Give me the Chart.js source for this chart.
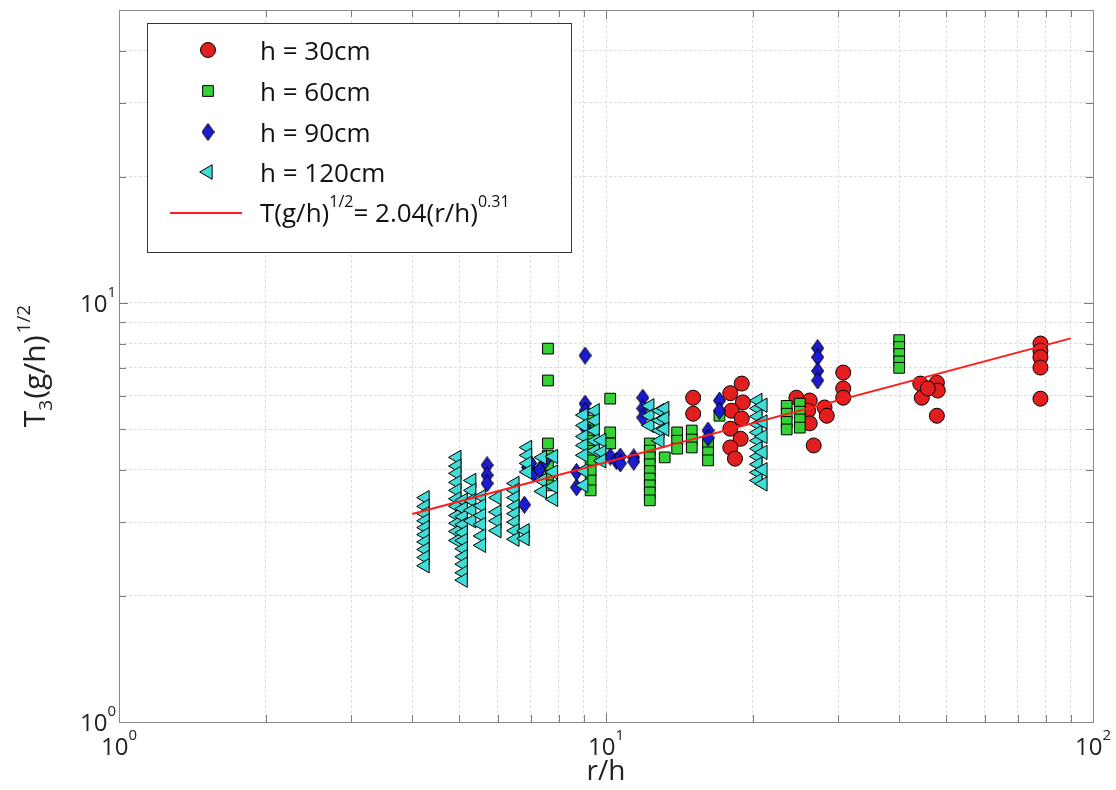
<!DOCTYPE html>
<html>
<head>
<meta charset="utf-8">
<script src="https://cdn.jsdelivr.net/npm/chart.js@4.4.0/dist/chart.umd.min.js"></script>
<style>
  html, body { margin: 0; padding: 0; background: #ffffff; }
  #wrap { width: 1116px; height: 790px; }
</style>
</head>
<body>
<div id="wrap"><canvas id="c" width="1116" height="790"></canvas></div>
<script>
// ---- measurements: r/h and T3 (g/h)^1/2 for each water depth h ----
const h30_r = [15.1, 15.1,
  19.0, 18.0, 19.1, 18.1, 19.0, 18.0, 18.9, 18.0, 18.4,
  24.6, 26.2, 26.0, 28.1, 28.4, 26.2, 26.7,
  30.7, 30.7, 30.7,
  44.2, 44.5, 47.8, 48.0, 45.8, 47.8,
  78, 78, 78, 78, 78];
const h30_T = [5.94, 5.44,
  6.42, 6.09, 5.79, 5.53, 5.30, 5.01, 4.74, 4.52, 4.25,
  5.94, 5.85, 5.53, 5.63, 5.38, 5.16, 4.57,
  6.82, 6.25, 5.94,
  6.42, 5.94, 6.45, 6.18, 6.25, 5.38,
  8.00, 7.69, 7.42, 7.01, 5.91];

const h60_r = [7.6, 7.6, 7.6, 7.6, 7.6, 7.6, 7.6,
  9.3, 9.3, 9.3, 9.3, 9.3, 9.3, 9.3, 9.3,
  10.2, 10.2, 10.2,
  12.3, 12.3, 12.3, 12.3, 12.3, 12.3, 12.3, 12.3, 12.3,
  13.2,
  14.0, 14.0, 14.0, 15.0, 15.0, 15.0,
  16.2, 16.2, 16.2,
  17.1,
  23.5, 23.5, 23.5, 23.5, 25.0, 25.0, 25.0, 25.0,
  40, 40, 40, 40, 40];
const h60_T = [7.78, 6.53, 4.62, 4.32, 4.09, 3.87, 3.67,
  5.24, 4.96, 4.69, 4.44, 4.21, 3.98, 3.77, 3.57,
  5.91, 4.91, 4.62,
  4.62, 4.44, 4.28, 4.12, 3.97, 3.81, 3.67, 3.53, 3.38,
  4.28,
  4.91, 4.69, 4.49, 4.96, 4.72, 4.52,
  4.62, 4.40, 4.21,
  5.38,
  5.68, 5.44, 5.20, 4.99, 5.75, 5.50, 5.27, 5.04,
  8.15, 7.85, 7.55, 7.25, 7.00];

const h90_r = [5.7, 5.7, 5.7,
  6.8,
  6.9, 7.1, 7.0,
  7.5, 7.3,
  8.7, 8.7,
  9.06, 9.06, 9.06, 9.06,
  10.2, 10.5, 10.7, 10.7,
  11.4, 11.4,
  11.9, 11.9, 11.9,
  16.2, 16.2,
  17.1, 17.1,
  27.2, 27.2, 27.2, 27.2];
const h90_T = [4.10, 3.88, 3.71,
  3.30,
  4.05, 3.92, 4.15,
  4.20, 4.00,
  3.63, 3.95,
  7.49, 5.75, 5.53, 5.04,
  4.30, 4.20, 4.30, 4.14,
  4.28, 4.18,
  5.94, 5.60, 5.33,
  4.96, 4.77,
  5.85, 5.53,
  7.80, 7.42, 6.88, 6.53];

const h120_r = [4.25, 4.25, 4.25, 4.25, 4.25, 4.25, 4.25, 4.25, 4.25, 4.25,
  4.94, 4.94, 4.94, 4.94, 4.94, 4.94, 4.94, 4.94, 4.94, 4.94, 4.94,
  5.09, 5.09, 5.09, 5.09, 5.09, 5.09, 5.09, 5.09, 5.09, 5.09, 5.09,
  5.3, 5.3, 5.3, 5.3, 5.3,
  5.55, 5.55, 5.55, 5.55, 5.55, 5.55,
  5.97, 5.97, 5.97, 5.97,
  6.5, 6.5, 6.5, 6.5, 6.5, 6.5, 6.5, 6.5,
  6.82, 6.82,
  6.9, 6.9, 6.9, 6.9,
  7.4, 7.4, 7.4,
  7.8, 7.8, 7.8, 7.8,
  9.0, 9.0, 9.0, 9.0, 9.0, 9.0, 9.0,
  9.5, 9.5, 9.5, 9.5, 9.5,
  9.8, 9.8, 9.8,
  12.3, 12.3, 12.3,
  12.9, 12.9, 12.9, 12.9,
  13.2, 13.2, 13.2,
  20.5, 20.5, 20.5, 20.5, 20.5, 20.5, 20.5, 20.5, 20.5, 20.5, 20.5,
  21.0, 21.0, 21.0, 21.0, 21.0, 21.0];
const h120_T = [3.43, 3.27, 3.14, 3.02, 2.91, 2.80, 2.69, 2.58, 2.47, 2.36,
  4.28, 4.08, 3.92, 3.73, 3.57, 3.41, 3.27, 3.11, 2.98, 2.85, 2.71,
  3.38, 3.23, 3.09, 2.96, 2.83, 2.71, 2.59, 2.48, 2.38, 2.27, 2.18,
  3.77, 3.57, 3.38, 3.20, 3.02,
  3.45, 3.28, 3.11, 2.96, 2.78, 2.64,
  3.43, 3.17, 3.02, 2.86,
  3.71, 3.57, 3.43, 3.27, 3.14, 3.00, 2.86, 2.73,
  2.86, 2.74,
  4.52, 4.33, 4.14, 3.95,
  4.28, 3.77, 3.55,
  4.30, 3.95, 3.65, 3.40,
  5.40, 5.10, 4.80, 4.57, 4.33, 3.98, 3.67,
  5.53, 5.24, 4.96, 4.69, 4.44,
  4.70, 4.40, 4.20,
  5.68, 5.38, 5.10,
  5.53, 5.24, 4.96, 4.69,
  5.60, 5.30, 5.00,
  5.85, 5.60, 5.36, 5.13, 4.91, 4.69, 4.49, 4.30, 4.12, 3.94, 3.77,
  5.70, 5.20, 4.80, 4.40, 4.00, 3.70];

// power-law fit T(g/h)^1/2 = 2.04 (r/h)^0.31, drawn over this r/h span
const fitCoef = 2.04;
const fitExp = 0.31;
const fitRange = [4, 90];

// axis ticks (log decades plus the 2..9 subdivisions)
const xTickValues = [1, 2, 3, 4, 5, 6, 7, 8, 9, 10, 20, 30, 40, 50, 60, 70, 80, 90, 100];
const yTickValues = [1, 2, 3, 4, 5, 6, 7, 8, 9, 10, 20, 30, 40, 50];
const xLabelDecades = [1, 10, 100];
const yLabelDecades = [1, 10];

const seriesNames = ['h = 30cm', 'h = 60cm', 'h = 90cm', 'h = 120cm'];

const FONT = '"Open Sans", "Liberation Sans", Arial, sans-serif';

function pairs(xs, ys) { return xs.map((v, i) => ({ x: v, y: ys[i] })); }

// diamond marker, taller than wide
function makeDiamond(w, h, fill) {
  const c = document.createElement('canvas');
  c.width = w; c.height = h;
  const g = c.getContext('2d');
  g.beginPath();
  g.moveTo(w / 2, 0.5);
  g.lineTo(w - 0.5, h / 2);
  g.lineTo(w / 2, h - 0.5);
  g.lineTo(0.5, h / 2);
  g.closePath();
  g.fillStyle = fill; g.fill();
  g.strokeStyle = '#000'; g.lineWidth = 1; g.stroke();
  return c;
}

function drawRich(ctx, parts, x, y, align) {
  let total = 0;
  parts.forEach(p => {
    ctx.font = p.size + 'px ' + FONT;
    p.w = ctx.measureText(p.t).width;
    total += p.w + (p.gap || 0);
  });
  let cx = align === 'center' ? x - total / 2 : (align === 'right' ? x - total : x);
  parts.forEach(p => {
    ctx.font = p.size + 'px ' + FONT;
    ctx.fillText(p.t, cx, y + (p.dy || 0));
    cx += p.w + (p.gap || 0);
  });
}

function build() {
  const diamond = makeDiamond(13, 18, '#1b1bd2');

  const styles = [
    { pointStyle: 'circle', radius: 7.5, rotation: 0, fill: '#e31e1e' },
    { pointStyle: 'rect', radius: 7.6, rotation: 0, fill: '#34d234' },
    { pointStyle: diamond, radius: 8, rotation: 0, fill: '#1b1bd2' },
    { pointStyle: 'triangle', radius: 8.3, rotation: -90, fill: '#3fdcd6' }
  ];
  const seriesData = [pairs(h30_r, h30_T), pairs(h60_r, h60_T), pairs(h90_r, h90_T), pairs(h120_r, h120_T)];

  const datasets = seriesData.map((d, i) => ({
    type: 'scatter',
    label: seriesNames[i],
    data: d,
    showLine: false,
    pointStyle: styles[i].pointStyle,
    pointRadius: styles[i].radius,
    pointRotation: styles[i].rotation,
    backgroundColor: styles[i].fill,
    borderColor: '#000000',
    borderWidth: 1,
    order: 4 - i
  }));
  datasets.push({
    type: 'line',
    label: 'fit',
    data: fitRange.map(v => ({ x: v, y: fitCoef * Math.pow(v, fitExp) })),
    borderColor: '#ff1c1c',
    borderWidth: 2,
    pointRadius: 0,
    fill: false,
    order: 0
  });

  const decor = {
    id: 'decor',
    afterDraw(chart) {
      const { ctx, chartArea: a, scales } = chart;
      const xs = scales.x, ys = scales.y;
      ctx.save();

      // inward tick marks on all four sides
      ctx.strokeStyle = '#7d7d7d';
      ctx.lineWidth = 1;
      ctx.beginPath();
      xs.ticks.forEach(t => {
        const px = Math.round(xs.getPixelForValue(t.value)) + 0.5;
        const len = xLabelDecades.includes(t.value) ? 9 : 7;
        ctx.moveTo(px, a.bottom); ctx.lineTo(px, a.bottom - len);
        ctx.moveTo(px, a.top); ctx.lineTo(px, a.top + len);
      });
      ys.ticks.forEach(t => {
        const py = Math.round(ys.getPixelForValue(t.value)) + 0.5;
        const len = yLabelDecades.includes(t.value) ? 9 : 7;
        ctx.moveTo(a.left, py); ctx.lineTo(a.left + len, py);
        ctx.moveTo(a.right, py); ctx.lineTo(a.right - len, py);
      });
      ctx.stroke();

      // axes box
      ctx.strokeStyle = '#8a8a8a';
      ctx.strokeRect(Math.round(a.left) + 0.5, Math.round(a.top) + 0.5,
        Math.round(a.right - a.left), Math.round(a.bottom - a.top));

      // tick labels 10^n
      ctx.fillStyle = '#222222';
      ctx.textBaseline = 'alphabetic';
      xLabelDecades.forEach(v => {
        const px = xs.getPixelForValue(v);
        drawRich(ctx, [
          { t: '10', size: 24 },
          { t: String(Math.round(Math.log10(v))), size: 15, dy: -15, gap: 0 }
        ], px, 755, 'center');
      });
      yLabelDecades.forEach(v => {
        const py = ys.getPixelForValue(v);
        drawRich(ctx, [
          { t: '10', size: 24 },
          { t: String(Math.round(Math.log10(v))), size: 15, dy: -15 }
        ], a.left - 3, py + 9, 'right');
      });

      // axis titles
      drawRich(ctx, [{ t: 'r/h', size: 28 }], (a.left + a.right) / 2, 780, 'center');
      ctx.save();
      ctx.translate(45, (a.top + a.bottom) / 2);
      ctx.rotate(-Math.PI / 2);
      drawRich(ctx, [
        { t: 'T', size: 30 },
        { t: '3', size: 19, dy: 7, gap: 1 },
        { t: '(g/h)', size: 30, gap: 2 },
        { t: '1/2', size: 19, dy: -15 }
      ], 0, 0, 'center');
      ctx.restore();

      // legend
      const L = { left: 147, top: 23, right: 571, bottom: 252 };
      ctx.fillStyle = '#ffffff';
      ctx.fillRect(L.left, L.top, L.right - L.left, L.bottom - L.top);
      ctx.strokeStyle = '#333333';
      ctx.lineWidth = 1;
      ctx.strokeRect(L.left + 0.5, L.top + 0.5, L.right - L.left, L.bottom - L.top);
      const rows = [50, 91, 132, 172];
      const mx = 208, tx = 260;
      styles.forEach((s, i) => {
        ctx.fillStyle = s.fill;
        ctx.strokeStyle = '#000000';
        ctx.lineWidth = 1;
        Chart.helpers.drawPoint(ctx, { pointStyle: s.pointStyle, radius: s.radius, rotation: s.rotation, borderWidth: 1 }, mx, rows[i]);
        ctx.fillStyle = '#111111';
        drawRich(ctx, [{ t: seriesNames[i], size: 26 }], tx, rows[i] + 10, 'left');
      });
      ctx.strokeStyle = '#ff1c1c';
      ctx.lineWidth = 2;
      ctx.beginPath();
      ctx.moveTo(170, 213); ctx.lineTo(242, 213);
      ctx.stroke();
      ctx.fillStyle = '#111111';
      drawRich(ctx, [
        { t: 'T(g/h)', size: 26 },
        { t: '1/2', size: 16, dy: -15 },
        { t: '= 2.04(r/h)', size: 26 },
        { t: '0.31', size: 16, dy: -15 }
      ], tx, 222, 'left');

      ctx.restore();
    }
  };

  const gridCommon = { color: '#dedede', lineWidth: 1, drawTicks: false };
  const borderCommon = { display: false, dash: [3, 2] };

  new Chart(document.getElementById('c'), {
    type: 'scatter',
    data: { datasets },
    options: {
      responsive: false,
      animation: false,
      events: [],
      layout: { padding: { top: 10, right: 23, left: 0, bottom: 0 } },
      plugins: { legend: { display: false }, tooltip: { enabled: false }, title: { display: false } },
      scales: {
        x: {
          type: 'logarithmic', min: 1, max: 100,
          grid: gridCommon, border: borderCommon,
          ticks: { display: false },
          afterBuildTicks: s => { s.ticks = xTickValues.map(v => ({ value: v })); },
          afterFit: s => { s.height = 68; }
        },
        y: {
          type: 'logarithmic', min: 1, max: 50,
          grid: gridCommon, border: borderCommon,
          ticks: { display: false },
          afterBuildTicks: s => { s.ticks = yTickValues.map(v => ({ value: v })); },
          afterFit: s => { s.width = 119; }
        }
      }
    },
    plugins: [decor]
  });
}

const fontReady = (document.fonts && document.fonts.load)
  ? Promise.all([document.fonts.load('26px "Open Sans"'), document.fonts.load('16px "Open Sans"')]).catch(() => null)
  : Promise.resolve();
fontReady.then(build, build);
</script>
</body>
</html>
